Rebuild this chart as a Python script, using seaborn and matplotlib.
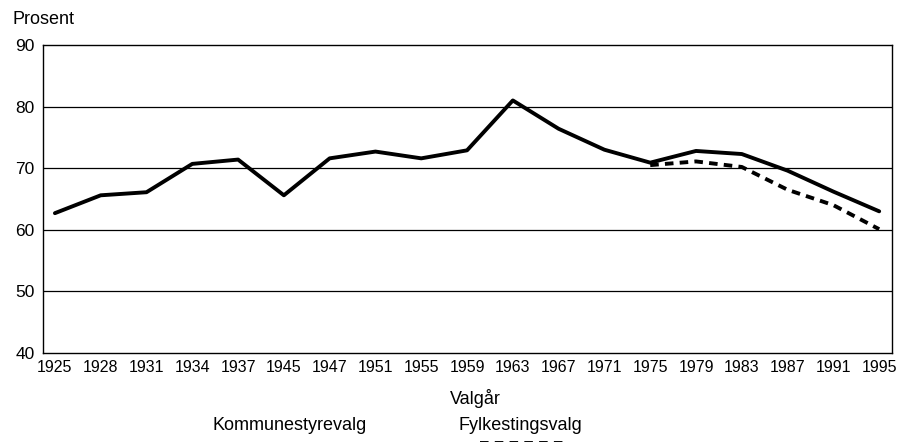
import matplotlib
matplotlib.use("Agg")
import matplotlib.pyplot as plt
from matplotlib.lines import Line2D
from matplotlib.ticker import MultipleLocator
import pandas as pd
import seaborn as sns

years = ["1925", "1928", "1931", "1934", "1937", "1945", "1947", "1951", "1955", "1959",
         "1963", "1967", "1971", "1975", "1979", "1983", "1987", "1991", "1995"]
kommune = [62.7, 65.6, 66.1, 70.7, 71.4, 65.6, 71.6, 72.7, 71.6, 72.9,
           81.0, 76.4, 73.0, 70.9, 72.8, 72.3, 69.6, 66.2, 63.0]
fylke_years = ["1975", "1979", "1983", "1987", "1991", "1995"]
fylke = [70.5, 71.1, 70.2, 66.5, 64.0, 60.1]

sns.set_style("white")
plt.rcParams["font.family"] = ["Liberation Sans", "DejaVu Sans"]
plt.rcParams["text.color"] = "black"
plt.rcParams["xtick.color"] = "black"
plt.rcParams["ytick.color"] = "black"

pos = {y: i for i, y in enumerate(years)}
df_k = pd.DataFrame({"x": [pos[y] for y in years], "v": kommune})
df_f = pd.DataFrame({"x": [pos[y] for y in fylke_years], "v": fylke})

fig = plt.figure(figsize=(8.97, 4.42), dpi=100)
ax = fig.add_axes([43 / 897, 1 - 353 / 442, (892 - 43) / 897, (353 - 45) / 442])

for yv in [50, 60, 70, 80]:
    ax.axhline(yv, color="black", lw=0.9, zorder=1)

sns.lineplot(data=df_k, x="x", y="v", ax=ax, color="black", lw=2.8, zorder=3)
sns.lineplot(data=df_f, x="x", y="v", ax=ax, color="black", lw=2.8,
             linestyle=(0, (2.2, 1.6)), zorder=2)

ax.set_xlim(-0.26, 18.28)
ax.set_ylim(40, 90)
ax.set_xticks(range(len(years)))
ax.set_xticklabels(years)
ax.yaxis.set_major_locator(MultipleLocator(10))
ax.yaxis.set_minor_locator(MultipleLocator(5))
ax.tick_params(axis="both", which="both", direction="in", labelsize=12.5,
               color="black", labelcolor="black", length=5, width=0.9)
ax.tick_params(axis="x", labelsize=11.5, pad=5)
ax.tick_params(axis="y", which="major", length=0, pad=6)
for s in ax.spines.values():
    s.set_color("black")
    s.set_linewidth(1.0)
ax.set_xlabel("")
ax.set_ylabel("")

fig.text(12 / 897, 1 - 19 / 442, "Prosent", fontsize=13, va="center", ha="left")
fig.text(475 / 897, 1 - 398 / 442, "Valgår", fontsize=13, va="center", ha="center")
fig.text(290 / 897, 1 - 426 / 442, "Kommunestyrevalg", fontsize=13, va="center", ha="center")
fig.text(520 / 897, 1 - 426 / 442, "Fylkestingsvalg", fontsize=13, va="center", ha="center")
fig.add_artist(Line2D([480 / 897, 565 / 897], [-1 / 442, -1 / 442], color="black", lw=2.8,
                      linestyle=(0, (2.2, 1.6)), transform=fig.transFigure))

fig.savefig("out.png", dpi=100)
